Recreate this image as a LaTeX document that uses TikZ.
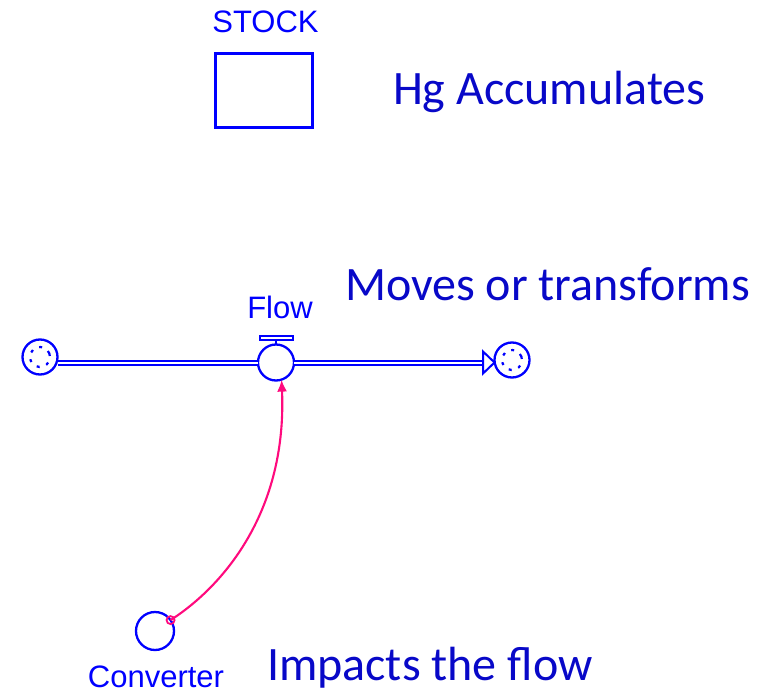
\documentclass[tikz,border=0pt]{standalone}
\usepackage{fontspec}
\setmainfont{Liberation Sans}
\newfontfamily\calib{Carlito}
\usetikzlibrary{arrows.meta}
\definecolor{diagblue}{RGB}{0,0,255}
\definecolor{noteblue}{RGB}{8,8,200}
\definecolor{linkpink}{RGB}{255,10,125}
\tikzset{
  every node/.style={inner sep=0pt, outer sep=0pt},
  symbol/.style={draw=diagblue, line width=2.3pt},
  smalllabel/.style={text=diagblue, font=\fontsize{31}{36}\selectfont, anchor=base},
  note/.style={text=noteblue, font=\calib\fontsize{48}{57}\selectfont, anchor=base west},
  pipe/.style={draw=diagblue, line width=2pt, double=white, double distance=2pt},
  cloud/.style={symbol, circle, minimum size=35pt},
  link/.style={draw=linkpink, line width=2.1pt}
}
\begin{document}
\begin{tikzpicture}[x=1pt, y=-1pt]
  \useasboundingbox (0,0) rectangle (762,692);

  % stock
  \node[smalllabel] (stocklabel) at (265.5,33) {STOCK};
  \node[symbol, draw, minimum width=97pt, minimum height=74pt] (stock) at (264,90.5) {};
  \node[note] (accum) at (393,105) {Hg Accumulates};

  % flow: source cloud, valve, sink cloud
  \node[cloud] (source) at (40,357) {};
  \node[cloud] (sink) at (512,360) {};
  \foreach \c in {source, sink}
    \draw[diagblue, line width=2.2pt, dash pattern=on 3pt off 7pt, rotate=20]
      (\c.center) circle[radius=10pt];
  \node[symbol, circle, minimum size=36pt] (valve) at (276,362.5) {};
  \draw[diagblue, line width=2pt] (valve.north) -- ++(0,-9) coordinate (stemtop);
  \draw[diagblue, line width=2pt, fill=white] ([xshift=-16pt]stemtop) rectangle ([xshift=17pt,yshift=-4pt]stemtop);
  \node[smalllabel] (flowlabel) at (280,318) {Flow};
  \node[note] (moves) at (345,300) {Moves or transforms};

  % pipes
  \coordinate (tipbase) at (483,362.5);
  \draw[pipe] (source.east |- valve.west) -- (valve.west);
  \draw[pipe] (valve.east) -- (tipbase);
  \draw[diagblue, line width=2pt, line join=miter]
    ([yshift=-11pt]tipbase) -- (sink.west |- tipbase) -- ([yshift=11pt]tipbase) -- cycle;

  % converter and its link to the valve
  \node[symbol, circle, minimum size=38pt] (conv) at (155,631) {};
  \node[smalllabel] (convlabel) at (156,687) {Converter};
  \node[draw=linkpink, line width=1.8pt, circle, minimum size=8pt] (linkstart) at (conv.35) {};
  \draw[link, -{Latex[length=12pt, width=10pt]}]
    (linkstart.center) .. controls (225,585) and (287,510) .. (valve.-72);
  \node[note] (impacts) at (267,680) {Impacts the flow};
\end{tikzpicture}
\end{document}
